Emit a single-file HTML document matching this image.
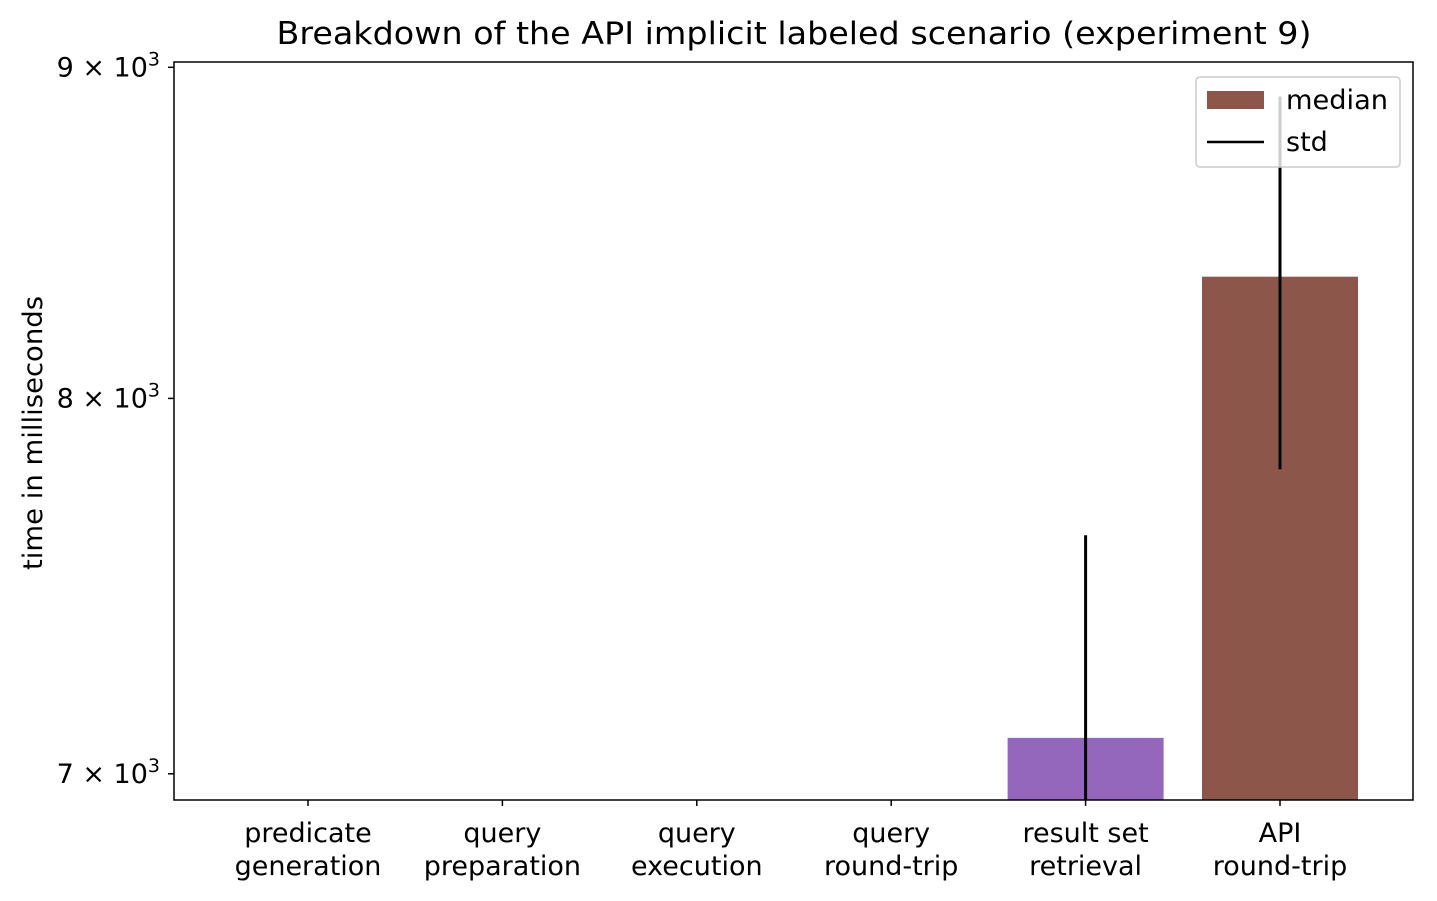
<!DOCTYPE html>
<html><head><meta charset="utf-8"><style>
html,body{margin:0;padding:0;background:#fff;overflow:hidden;}
svg{display:block;}
svg text{font-family:"DejaVu Sans","Liberation Sans",sans-serif;fill:#000;}
</style></head><body>
<svg id="chart" width="1437" height="901" xmlns="http://www.w3.org/2000/svg">
<text x="794" y="44" style="font-size:31px" text-anchor="middle" textLength="1035" lengthAdjust="spacingAndGlyphs">Breakdown of the API implicit labeled scenario (experiment 9)</text>
<text transform="translate(42,433) rotate(-90)" style="font-size:27px" text-anchor="middle" textLength="274" lengthAdjust="spacingAndGlyphs">time in milliseconds</text>
<g id="plot"></g>
<g id="legend">
<rect x="1196" y="77" width="204" height="90" rx="4" fill="#fff" fill-opacity="0.8" stroke="#ccc" stroke-width="1.5"/>
<rect x="1207" y="91" width="57" height="18" fill="#8c564b"/>
<text x="1286" y="109" style="font-size:27px" textLength="102" lengthAdjust="spacingAndGlyphs">median</text>
<line x1="1207" y1="142" x2="1264" y2="142" stroke="#000" stroke-width="2.5"/>
<text x="1286" y="151" style="font-size:27px">std</text>
</g>
</svg>
<script>
const categories=[["predicate","generation"],["query","preparation"],["query","execution"],["query","round-trip"],["result set","retrieval"],["API","round-trip"]];
const medians=[5,20,40,80,7090,8354];
const stds=[2,5,10,20,530,553];
const colors=["#1f77b4","#ff7f0e","#2ca02c","#d62728","#9467bd","#8c564b"];
const yTicks=[7000,8000,9000];
const yTickLabels=["7","8","9"];
const L=174,R=1413,T=62,B=800,yMin=6935,yMax=9017;
const ns="http://www.w3.org/2000/svg";
const g=document.getElementById('plot');
function y(v){v=Math.max(v,1e-9);return B-(Math.log10(v)-Math.log10(yMin))/(Math.log10(yMax)-Math.log10(yMin))*(B-T);}
const step=194.4;
function x(i){return 308+step*i;}
function mk(t,a){const e=document.createElementNS(ns,t);for(const k in a)e.setAttribute(k,a[k]);g.appendChild(e);return e;}
const cp=document.createElementNS(ns,'clipPath');cp.setAttribute('id','clip');
const cr=document.createElementNS(ns,'rect');cr.setAttribute('x',L);cr.setAttribute('y',T);cr.setAttribute('width',R-L);cr.setAttribute('height',B-T);cp.appendChild(cr);g.appendChild(cp);
const bw=156;
categories.forEach((c,i)=>{
 const top=y(medians[i]);
 const r=mk('rect',{x:x(i)-bw/2,y:Math.max(top,T),width:bw,height:Math.max(0,B-Math.max(top,T)),fill:colors[i],'clip-path':'url(#clip)'});
 
 
 const e=mk('line',{x1:x(i),x2:x(i),y1:y(medians[i]+stds[i]),y2:y(medians[i]-stds[i]),stroke:'#000','stroke-width':3,'clip-path':'url(#clip)'});
 
 
 const tk=mk('line',{x1:x(i),x2:x(i),y1:B,y2:B+6,stroke:'#000','stroke-width':1.5});
 
 
 c.forEach((s,j)=>{const t=mk('text',{x:x(i),y:842+j*33,style:'font-size:27px','text-anchor':'middle'});t.textContent=s;
 
 });
});
yTicks.forEach((v,i)=>{
 const tk=mk('line',{x1:L-6,x2:L,y1:y(v),y2:y(v),stroke:'#000','stroke-width':1.5});
 
 
 const t=mk('text',{x:L-14,y:y(v)+9,style:'font-size:27px','text-anchor':'end'});
 t.innerHTML=yTickLabels[i]+' × 10<tspan dy="-11" style="font-size:19px">3</tspan>';
 
 
});
const f=mk('rect',{x:L,y:T,width:R-L,height:B-T,fill:'none',stroke:'#000','stroke-width':1.5});


</script>
</body></html>
